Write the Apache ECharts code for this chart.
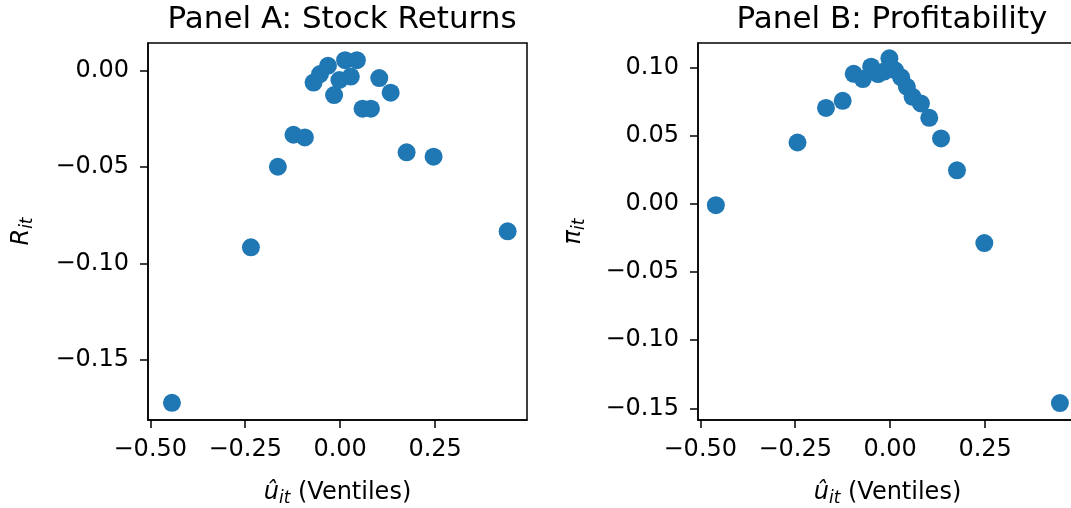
<!DOCTYPE html>
<html>
<head>
<meta charset="utf-8">
<script src="https://cdn.jsdelivr.net/npm/echarts@6/dist/echarts.min.js"></script>
<style>
  html, body { margin: 0; padding: 0; background: #fff; }
  #main { width: 1071px; height: 508px; }
</style>
</head>
<body>
<div id="main"></div>
<script>
// ventile means
var retX = [-0.443, -0.235, -0.164, -0.123, -0.093, -0.070, -0.053, -0.032, -0.016, -0.002,
            0.013, 0.028, 0.044, 0.059, 0.081, 0.103, 0.133, 0.175, 0.246, 0.441];
var retY = [-0.1723, -0.0916, -0.0498, -0.0332, -0.0346, -0.0061, -0.0017, 0.0026, -0.0126, -0.0048,
            0.0055, -0.0030, 0.0055, -0.0197, -0.0197, -0.0038, -0.0114, -0.0423, -0.0446, -0.0833];

var profX = [-0.459, -0.244, -0.169, -0.125, -0.096, -0.072, -0.050, -0.032, -0.016, -0.002,
             0.013, 0.029, 0.044, 0.059, 0.081, 0.103, 0.134, 0.176, 0.248, 0.447];
var profY = [-0.0010, 0.0450, 0.0704, 0.0756, 0.0954, 0.0915, 0.1006, 0.0952, 0.0970, 0.1068,
             0.0980, 0.0928, 0.0859, 0.0785, 0.0737, 0.0631, 0.0480, 0.0246, -0.0288, -0.1462];

var xTicks = [-0.5, -0.25, 0, 0.25];
var retTicks = [-0.15, -0.10, -0.05, 0];
var profTicks = [-0.15, -0.10, -0.05, 0, 0.05, 0.10];

function pairs(xs, ys) {
  return xs.map(function (x, i) { return [x, ys[i]]; });
}

function fmt(v) {
  return v.toFixed(2).replace('-', '\u2212');
}

var font = 'DejaVu Sans';
var black = '#000';

var rich = {
  i: { fontFamily: font, fontSize: 24, fontStyle: 'italic', color: black },
  s: { fontFamily: font, fontSize: 17, fontStyle: 'italic', color: black, padding: [12, 0, 0, 0] },
  n: { fontFamily: font, fontSize: 24, color: black }
};

function xAxisFor(idx) {
  return {
    type: 'value',
    gridIndex: idx,
    min: -0.506,
    max: 0.492,
    name: '{i|\u00fb}{s|it}{n| (Ventiles)}',
    nameLocation: 'middle',
    nameGap: 58,
    nameTextStyle: { rich: rich },
    splitLine: { show: false },
    axisLine: { onZero: false, lineStyle: { color: black, width: 1.5 } },
    axisTick: { customValues: xTicks, length: 8, lineStyle: { color: black, width: 1.5 } },
    axisLabel: { customValues: xTicks, formatter: fmt, fontFamily: font, fontSize: 24, color: black, margin: 18 }
  };
}

function yAxisFor(idx, min, max, ticks, sym, gap) {
  return {
    type: 'value',
    gridIndex: idx,
    min: min,
    max: max,
    name: '{i|' + sym + '}{s|it}',
    nameLocation: 'middle',
    nameGap: gap,
    nameRotate: 90,
    nameTextStyle: { rich: rich },
    splitLine: { show: false },
    axisLine: { show: true, onZero: false, lineStyle: { color: black, width: 1.5 } },
    axisTick: { customValues: ticks, length: 8, lineStyle: { color: black, width: 1.5 } },
    axisLabel: { customValues: ticks, formatter: fmt, fontFamily: font, fontSize: 24, color: black, margin: 19 }
  };
}

var myChart = echarts.init(document.getElementById('main'), null, { renderer: 'canvas' });

var option = {
  animation: false,
  backgroundColor: '#fff',
  title: [
    { text: 'Panel A: Stock Returns', left: 337, top: -1, textAlign: 'center',
      textStyle: { fontFamily: font, fontSize: 31, fontWeight: 'normal', color: black } },
    { text: 'Panel B: Profitability', left: 887, top: -1, textAlign: 'center',
      textStyle: { fontFamily: font, fontSize: 31, fontWeight: 'normal', color: black } }
  ],
  grid: [
    { left: 148, right: 544, top: 43, bottom: 88, outerBoundsMode: 'none', containLabel: false,
      show: true, borderColor: black, borderWidth: 1.5 },
    { left: 698, right: -6, top: 43, bottom: 88, outerBoundsMode: 'none', containLabel: false,
      show: true, borderColor: black, borderWidth: 1.5 }
  ],
  xAxis: [xAxisFor(0), xAxisFor(1)],
  yAxis: [
    yAxisFor(0, -0.1812, 0.0144, retTicks, 'R', 112),
    yAxisFor(1, -0.1586, 0.1180, profTicks, '\u03c0', 110)
  ],
  series: [
    { type: 'scatter', xAxisIndex: 0, yAxisIndex: 0, data: pairs(retX, retY),
      symbolSize: 18, itemStyle: { color: '#1f77b4', opacity: 1 } },
    { type: 'scatter', xAxisIndex: 1, yAxisIndex: 1, data: pairs(profX, profY),
      symbolSize: 18, itemStyle: { color: '#1f77b4', opacity: 1 } }
  ]
};

if (option && typeof option === 'object') {
  myChart.setOption(option);
}

window.addEventListener('resize', myChart.resize);
</script>
</body>
</html>
